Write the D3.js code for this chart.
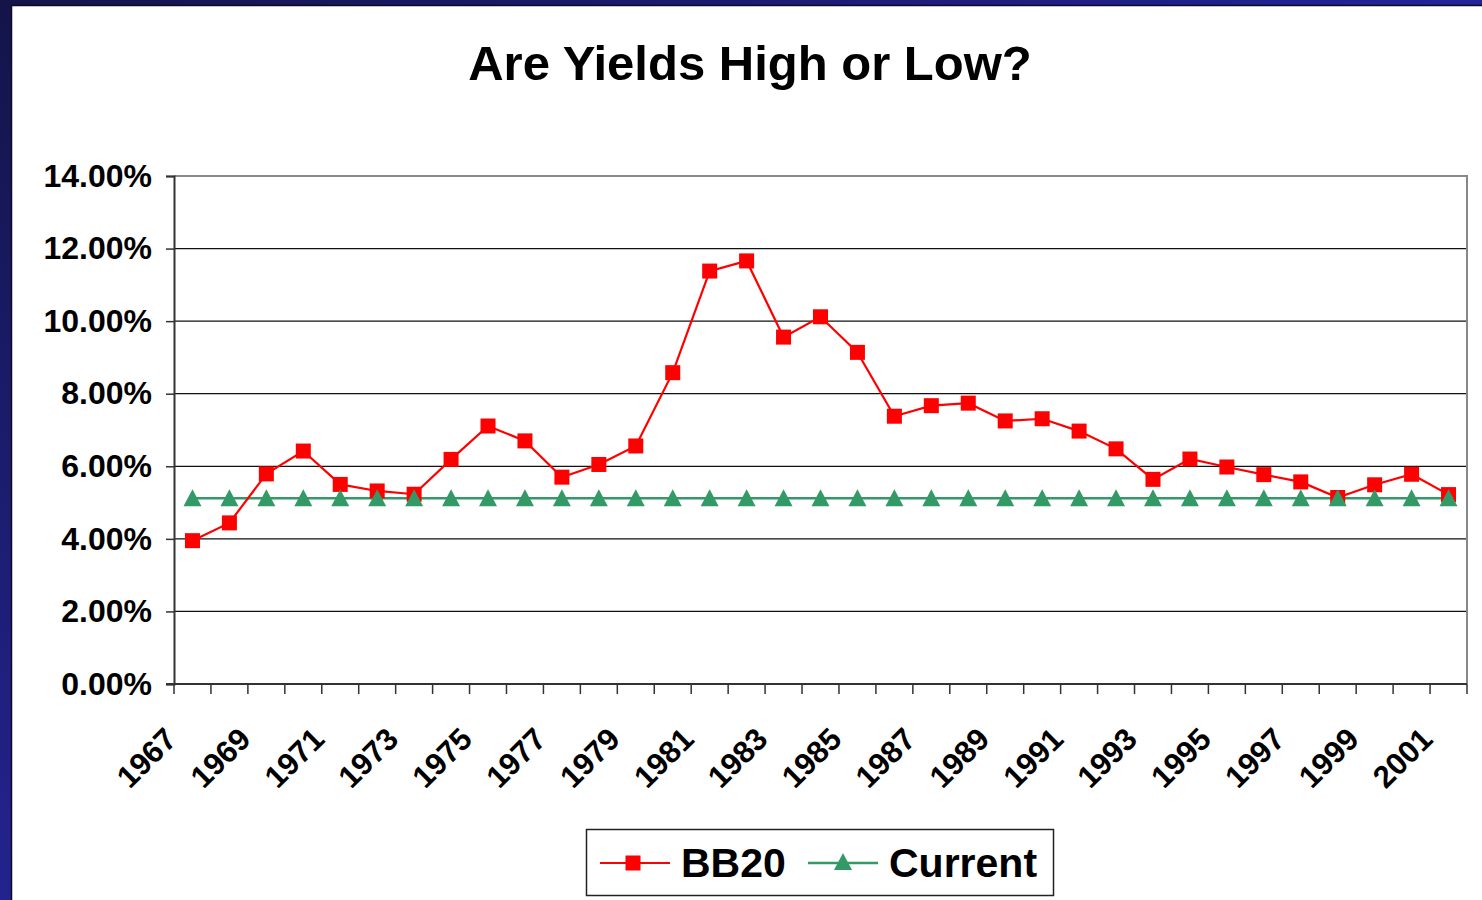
<!DOCTYPE html>
<html>
<head>
<meta charset="utf-8">
<script src="https://cdn.jsdelivr.net/npm/d3@7"></script>
<style>
  html, body { margin: 0; padding: 0; background: #fff; }
  svg { display: block; }
  text { font-family: "Liberation Sans", Arial, sans-serif; font-weight: bold; fill: #000; }
</style>
</head>
<body>
<svg id="chart" width="1482" height="900"></svg>
<script>
// Years on the category axis.
const years = d3.range(1967, 2002);

// BB20 yield (fractions).
const bb20 = [
  0.0395, 0.0444, 0.0579, 0.0642, 0.0550, 0.0532, 0.0523, 0.0619, 0.0711, 0.0670,
  0.0570, 0.0605, 0.0656, 0.0858, 0.1138, 0.1166, 0.0956, 0.1012, 0.0914, 0.0738,
  0.0767, 0.0774, 0.0725, 0.0731, 0.0697, 0.0648, 0.0564, 0.0620, 0.0598, 0.0577,
  0.0557, 0.0514, 0.0549, 0.0578, 0.0522
];

// Current yield, flat across all years.
const current = years.map(() => 0.0512);

const yTicks = [0, 0.02, 0.04, 0.06, 0.08, 0.10, 0.12, 0.14];
const seriesNames = ['BB20', 'Current'];

const RED = '#ff0000';
const GREEN = '#339966';

const svg = d3.select('#chart');
const W = 1482, H = 900;

// Slide frame: dark blue strips on the left and top.
const defs = svg.append('defs');
const gl = defs.append('linearGradient').attr('id', 'leftGrad')
  .attr('x1', 0).attr('y1', 0).attr('x2', 0).attr('y2', 1);
gl.append('stop').attr('offset', '0%').attr('stop-color', '#14144a');
gl.append('stop').attr('offset', '100%').attr('stop-color', '#23238f');
const gt = defs.append('linearGradient').attr('id', 'topGrad')
  .attr('x1', 0).attr('y1', 0).attr('x2', 1).attr('y2', 0);
gt.append('stop').attr('offset', '0%').attr('stop-color', '#14144a');
gt.append('stop').attr('offset', '100%').attr('stop-color', '#23239c');

svg.append('rect').attr('x', 0).attr('y', 0).attr('width', W).attr('height', H).attr('fill', '#fff');
svg.append('rect').attr('x', 0).attr('y', 0).attr('width', W).attr('height', 5).attr('fill', 'url(#topGrad)');
svg.append('rect').attr('x', 0).attr('y', 0).attr('width', 11).attr('height', H).attr('fill', 'url(#leftGrad)');
svg.append('line').attr('x1', 11).attr('x2', W).attr('y1', 5.5).attr('y2', 5.5)
  .attr('stroke', '#0a0a22').attr('stroke-width', 1.5);
svg.append('line').attr('x1', 11.5).attr('x2', 11.5).attr('y1', 5).attr('y2', H)
  .attr('stroke', '#0a0a22').attr('stroke-width', 1.5);

// Title
svg.append('text')
  .attr('x', 750).attr('y', 80)
  .attr('text-anchor', 'middle')
  .style('font-size', '49px')
  .text('Are Yields High or Low?');

// Plot area
const plot = {left: 174, right: 1467, top: 176, bottom: 684};

const x = d3.scaleBand()
  .domain(years)
  .range([plot.left, plot.right])
  .padding(0);

const y = d3.scaleLinear()
  .domain([0, 0.14])
  .range([plot.bottom, plot.top]);

const cx = d => x(d) + x.bandwidth() / 2;

// Gridlines
svg.append('g').selectAll('line')
  .data(yTicks.slice(1, -1))
  .enter().append('line')
  .attr('x1', plot.left).attr('x2', plot.right)
  .attr('y1', d => y(d)).attr('y2', d => y(d))
  .attr('stroke', '#111').attr('stroke-width', 1.2);

// Top and right border of the plot area
svg.append('path')
  .attr('d', `M${plot.left},${plot.top}H${plot.right}V${plot.bottom}`)
  .attr('fill', 'none').attr('stroke', '#888').attr('stroke-width', 2);

// y axis
const yAxis = d3.axisLeft(y)
  .tickValues(yTicks)
  .tickFormat(d3.format('.2%'))
  .tickSize(8)
  .tickPadding(14);

const yg = svg.append('g')
  .attr('transform', `translate(${plot.left},0)`)
  .call(yAxis);
yg.select('.domain').attr('stroke', '#333').attr('stroke-width', 2);
yg.selectAll('.tick line').attr('stroke', '#333').attr('stroke-width', 1.5);
yg.selectAll('.tick text')
  .style('font-size', '32px')
  .style('font-family', '"Liberation Sans", Arial, sans-serif')
  .style('font-weight', 'bold')
  .attr('fill', '#000');

// x axis: ticks between categories
const xg = svg.append('g');
xg.append('line')
  .attr('x1', plot.left - 8).attr('x2', plot.right)
  .attr('y1', plot.bottom).attr('y2', plot.bottom)
  .attr('stroke', '#333').attr('stroke-width', 2);
xg.selectAll('.xtick')
  .data(years.map(d => x(d)).concat([plot.right]))
  .enter().append('line')
  .attr('class', 'xtick')
  .attr('x1', d => d).attr('x2', d => d)
  .attr('y1', plot.bottom).attr('y2', plot.bottom + 10)
  .attr('stroke', '#333').attr('stroke-width', 1.5);

xg.selectAll('.xlabel')
  .data(years.filter((d, i) => i % 2 === 0))
  .enter().append('text')
  .attr('class', 'xlabel')
  .attr('text-anchor', 'end')
  .attr('transform', d => `translate(${cx(d) - 14},741) rotate(-45)`)
  .style('font-size', '31px')
  .text(d => d);

// Series lines
const line = d3.line()
  .x((d, i) => cx(years[i]))
  .y(d => y(d));

svg.append('path')
  .datum(current)
  .attr('d', line)
  .attr('fill', 'none')
  .attr('stroke', GREEN)
  .attr('stroke-width', 2.5);

svg.append('path')
  .datum(bb20)
  .attr('d', line)
  .attr('fill', 'none')
  .attr('stroke', RED)
  .attr('stroke-width', 2.2);

// Markers
const sq = 15;
svg.append('g').selectAll('rect')
  .data(bb20)
  .enter().append('rect')
  .attr('x', (d, i) => cx(years[i]) - sq / 2)
  .attr('y', d => y(d) - sq / 2)
  .attr('width', sq).attr('height', sq)
  .attr('fill', RED);

// Triangle marker, 18 wide and 17 tall, centred on its point.
const tri = 'M0,-9L9,8L-9,8Z';
svg.append('g').selectAll('path')
  .data(current)
  .enter().append('path')
  .attr('d', tri)
  .attr('transform', (d, i) => `translate(${cx(years[i])},${y(d)})`)
  .attr('fill', GREEN);

// Legend
const lg = svg.append('g');
lg.append('rect')
  .attr('x', 586.5).attr('y', 829.5)
  .attr('width', 467).attr('height', 66)
  .attr('fill', '#fff').attr('stroke', '#222').attr('stroke-width', 1.5);

lg.append('line').attr('x1', 600).attr('x2', 670).attr('y1', 863).attr('y2', 863)
  .attr('stroke', RED).attr('stroke-width', 2.2);
lg.append('rect').attr('x', 633 - 7.5).attr('y', 863 - 7.5).attr('width', 15).attr('height', 15)
  .attr('fill', RED);
lg.append('text').attr('x', 681).attr('y', 877).style('font-size', '41px').text(seriesNames[0]);

lg.append('line').attr('x1', 808).attr('x2', 878).attr('y1', 863).attr('y2', 863)
  .attr('stroke', GREEN).attr('stroke-width', 2.5);
lg.append('path').attr('d', tri).attr('transform', 'translate(843,862)').attr('fill', GREEN);
lg.append('text').attr('x', 889).attr('y', 877).style('font-size', '41px').text(seriesNames[1]);
</script>
</body>
</html>
